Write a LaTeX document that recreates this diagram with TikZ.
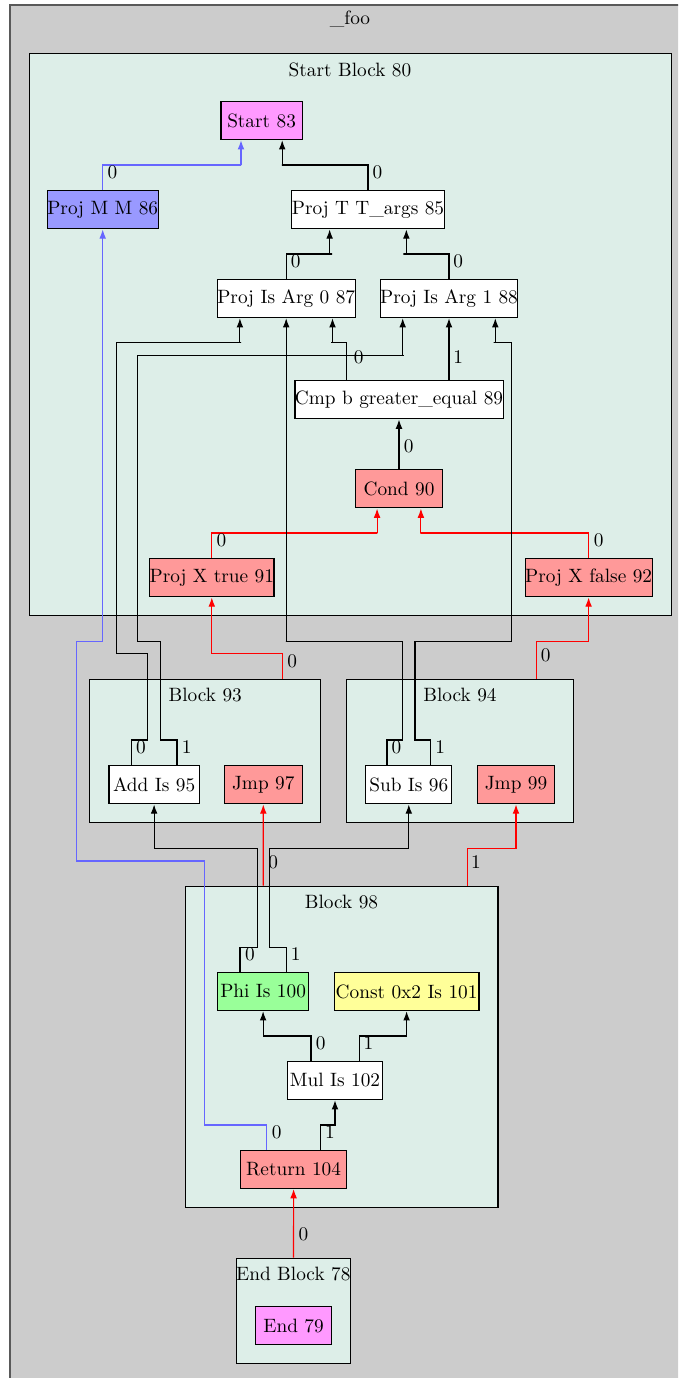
\documentclass[tikz,border=0pt]{standalone}
\usetikzlibrary{arrows.meta,calc}
\definecolor{outerbg}{RGB}{204,204,204}
\definecolor{blockbg}{RGB}{221,238,232}
\definecolor{startfill}{RGB}{255,153,255}
\definecolor{memfill}{RGB}{153,153,255}
\definecolor{ctrlfill}{RGB}{255,153,153}
\definecolor{phifill}{RGB}{153,255,153}
\definecolor{constfill}{RGB}{255,255,153}
\definecolor{memline}{RGB}{102,102,255}
\begin{document}
\begin{tikzpicture}
[x=0.518pt, y=-0.518pt, every node/.style={inner sep=0pt},
 op/.style={rectangle, draw=black, fill=white, line width=0.6pt, minimum height=19.8pt, minimum width=#1},
 blk/.style={rectangle, draw=black, fill=blockbg, line width=0.6pt},
 ttl/.style={anchor=base},
 lbl/.style={anchor=center},
 dep/.style={line width=0.6pt, draw=black, -{Latex[length=4.8pt,width=3.5pt]}},
 ctl/.style={dep, draw=red},
 mem/.style={dep, draw=memline}]
\path [use as bounding box, clip] (0,0) rectangle (678,1378);
% clusters
\node (foo) [rectangle, draw=black!65, fill=outerbg, line width=1pt, minimum width=352.2pt, minimum height=717.4pt] at (350,697.5) {};
\node (b80) [blk, minimum width=332.6pt, minimum height=291.1pt] at (350.4,334.3) {};
\node (b93) [blk, minimum width=119.8pt, minimum height=74.3pt] at (205.15,751) {};
\node (b94) [blk, minimum width=117.8pt, minimum height=74.3pt] at (460,751) {};
\node (b98) [blk, minimum width=161.9pt, minimum height=166.3pt] at (341.75,1046.8) {};
\node (b78) [blk, minimum width=59.1pt, minimum height=54.4pt] at (293.55,1310.8) {};
\node (tfoo) [ttl] at (350,25) {\_foo};
\node (t80) [ttl] at (350,76.7) {Start Block 80};
\node (t93) [ttl] at (205.3,701.7) {Block 93};
\node (t94) [ttl] at (460,701.7) {Block 94};
\node (t98) [ttl] at (341.5,908.7) {Block 98};
\node (t78) [ttl] at (293.3,1280.7) {End Block 78};
% operations
\node (83) [op=42.1pt, fill=startfill] at (261.6,120.5) {Start 83};
\node (86) [op=55.7pt, fill=memfill] at (102.7,209.7) {Proj M M 86};
\node (85) [op=74.1pt] at (368,209.7) {Proj T T\_args 85};
\node (87) [op=69.9pt] at (286.2,298.5) {Proj Is Arg 0 87};
\node (88) [op=70.1pt] at (449,298.5) {Proj Is Arg 1 88};
\node (89) [op=103.4pt] at (399,399.8) {Cmp b greater\_equal 89};
\node (90) [op=44.8pt, fill=ctrlfill] at (399,488.8) {Cond 90};
\node (91) [op=63.1pt, fill=ctrlfill] at (211.8,577.7) {Proj X true 91};
\node (92) [op=65.6pt, fill=ctrlfill] at (588.6,577.7) {Proj X false 92};
\node (95) [op=46.8pt] at (154.1,784.7) {Add Is 95};
\node (97) [op=40.3pt, fill=ctrlfill] at (263.3,784.7) {Jmp 97};
\node (96) [op=44.5pt] at (408.8,784.7) {Sub Is 96};
\node (99) [op=40.1pt, fill=ctrlfill] at (516,784.7) {Jmp 99};
\node (100) [op=47.2pt, fill=phifill] at (263.1,991.5) {Phi Is 100};
\node (101) [op=75.0pt, fill=constfill] at (406.6,991.5) {Const 0x2 Is 101};
\node (102) [op=49.3pt] at (335,1080.5) {Mul Is 102};
\node (104) [op=55.1pt, fill=ctrlfill] at (293.6,1169.3) {Return 104};
\node (79) [op=39.4pt, fill=startfill] at (293.6,1325.5) {End 79};
% edges
\draw [mem] (86.north) |- (241.2,165) -| ($(83.south west)!.25!(83.south east)$);
\draw [dep] (85.north) |- (281.9,165) -| ($(83.south west)!.75!(83.south east)$);
\draw [dep] (87.north) |- (332,254) -| ($(85.south west)!.25!(85.south east)$);
\draw [dep] (88.north) |- (403.3,254) -| ($(85.south west)!.75!(85.south east)$);
\draw [dep] ($(89.north west)!.25!(89.north east)$) |- (331.2,342.7) -| ($(87.south west)!.8333!(87.south east)$);
\draw [dep] (88.south |- 89.north) -- (88.south);
\draw [dep] (90.north) -- (89.south);
\draw [ctl] (91.north) |- (377.4,533) -| ($(90.south west)!.25!(90.south east)$);
\draw [ctl] (92.north) |- (420.7,533) -| ($(90.south west)!.75!(90.south east)$);
\draw [ctl] ($(b93.north west)!.8333!(b93.north east)$) |- (211.8,653.3) -| (91.south);
\draw [ctl] ($(b94.north west)!.8333!(b94.north east)$) |- (588.8,641.3) -| (92.south);
\draw [dep] ($(95.north west)!.25!(95.north east)$) |- (147.9,740) |- (116.7,653.3) |- (241.2,342.7) -| ($(87.south west)!.1667!(87.south east)$);
\draw [dep] ($(95.north west)!.75!(95.north east)$) |- (160.4,740) |- (137.5,641.3) |- (403.8,355.7) -| ($(88.south west)!.1667!(88.south east)$);
\draw [dep] ($(96.north west)!.25!(96.north east)$) |- (402.5,740) |- (285.8,641.3) -| (87.south);
\draw [dep] ($(96.north west)!.75!(96.north east)$) |- (415,740) |- (511.9,641.3) |- (493.7,342.7) -| ($(88.south west)!.8333!(88.south east)$);
\draw [ctl] ($(b98.north west)!.25!(b98.north east)$) -- (97.south);
\draw [ctl] ($(b98.north west)!.9!(b98.north east)$) |- (516,848.3) -| (99.south);
\draw [dep] ($(100.north west)!.25!(100.north east)$) |- (257.2,947.3) |- (154.1,848.3) -| (95.south);
\draw [dep] ($(100.north west)!.75!(100.north east)$) |- (269.3,947.3) |- (408.8,848.3) -| (96.south);
\draw [dep] ($(102.north west)!.25!(102.north east)$) |- (263.1,1036) -| (100.south);
\draw [dep] ($(102.north west)!.75!(102.north east)$) |- (406.6,1036) -| (101.south);
\draw [dep] ($(104.north west)!.75!(104.north east)$) |- (335,1125) -| (102.south);
\draw [mem] ($(104.north west)!.25!(104.north east)$) |- (204.1,1125) |- (76.5,861) |- (102.7,641.3) -| (86.south);
\draw [ctl] (b78.north) -- (104.south);
% edge labels
\node (l1) [lbl] at (112.4,172.7) {0};
\node (l2) [lbl] at (377.4,172.7) {0};
\node (l3) [lbl] at (295.7,261.7) {0};
\node (l4) [lbl] at (458.3,261.7) {0};
\node (l5) [lbl] at (358.8,357.7) {0};
\node (l6) [lbl] at (458.3,356.7) {1};
\node (l7) [lbl] at (408.6,446) {0};
\node (l8) [lbl] at (221.4,540) {0};
\node (l9) [lbl] at (598.8,540) {0};
\node (l10) [lbl] at (292.3,661.3) {0};
\node (l11) [lbl] at (545.6,655) {0};
\node (l12) [lbl] at (141,747.3) {0};
\node (l13) [lbl] at (186.8,747.3) {1};
\node (l14) [lbl] at (396.4,747.3) {0};
\node (l15) [lbl] at (440.1,747.3) {1};
\node (l16) [lbl] at (273.2,862.3) {0};
\node (l17) [lbl] at (476,862.3) {1};
\node (l18) [lbl] at (249.9,954.3) {0};
\node (l19) [lbl] at (295.7,954.3) {1};
\node (l20) [lbl] at (320.8,1043.3) {0};
\node (l21) [lbl] at (368.4,1043.3) {1};
\node (l22) [lbl] at (276.7,1132.3) {0};
\node (l23) [lbl] at (329.9,1132.3) {1};
\node (l24) [lbl] at (303.5,1234) {0};
\end{tikzpicture}
\end{document}
